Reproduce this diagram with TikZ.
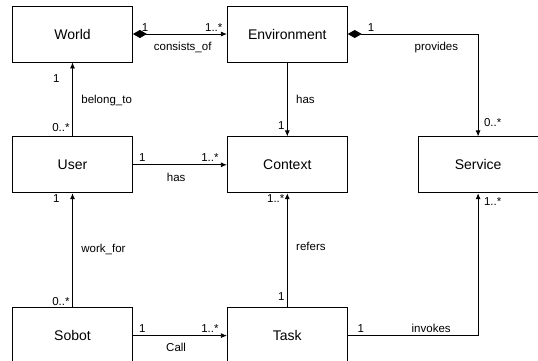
\documentclass[tikz,border=0pt]{standalone}
\usepackage{fontspec}
\setmainfont{Liberation Sans}
\usepackage{tikz}
\usetikzlibrary{arrows.meta, positioning}
\tikzset{
  cls/.style={draw=black, line width=0.8pt, minimum width=120pt, minimum height=56pt,
              inner sep=0pt, font=\fontsize{14}{16}\selectfont},
  assoc/.style={-{Latex[length=6pt,width=5pt]}, line width=0.8pt},
  comp/.style={{Diamond[length=14pt,width=8pt]}-{Latex[length=6pt,width=5pt]}, line width=0.8pt},
  mult/.style={font=\fontsize{11.5}{13}\selectfont, inner sep=2.5pt},
}

\begin{document}
\begin{tikzpicture}[x=1pt, y=1pt, node distance=74pt and 94pt]
  \useasboundingbox (0,0) rectangle (538,-360);
  \fill[white] (0,0) rectangle (538,-360);
  \clip (0,0) rectangle (538,-360);

  % Classes
  \node[cls] (world) at (72.5,-34) {World};
  \node[cls, right=of world] (env) {Environment};
  \node[cls, below=of world] (user) {User};
  \node[cls, right=of user] (context) {Context};
  \node[cls, right=70pt of context] (service) {Service};
  \node[cls, below=114pt of user] (sobot) {Sobot};
  \node[cls, right=of sobot] (task) {Task};

  % Compositions
  \draw[comp] (world) -- (env)
    node[mult, above, pos=0.13] {1}
    node[mult, above, pos=0.86] {1..*}
    node[mult, below, pos=0.53, yshift=-5pt] {consists\_of};
  \draw[comp] (env) -| (service)
    node[mult, above, pos=0.09] {1}
    node[mult, below, pos=0.34, yshift=-5pt] {provides}
    node[mult, right, pos=0.93, xshift=3pt] {0..*};

  % Associations
  \draw[assoc] (env) -- (context)
    node[mult, right, pos=0.5, xshift=6pt] {has}
    node[mult, left, pos=0.85] {1};
  \draw[assoc] (user) -- (world)
    node[mult, left, pos=0.12] {0..*}
    node[mult, left, pos=0.78, xshift=-10pt] {1}
    node[mult, right, pos=0.49, xshift=6pt] {belong\_to};
  \draw[assoc] (user) -- (context)
    node[mult, above, pos=0.1] {1}
    node[mult, above, pos=0.82] {1..*}
    node[mult, below, pos=0.46, yshift=-5pt] {has};
  \draw[assoc] (sobot) -- (user)
    node[mult, left, pos=0.05] {0..*}
    node[mult, left, pos=0.95, xshift=-10pt] {1}
    node[mult, right, pos=0.51, xshift=6pt] {work\_for};
  \draw[assoc] (task) -- (context)
    node[mult, left, pos=0.09] {1}
    node[mult, left, pos=0.95] {1..*}
    node[mult, right, pos=0.53, xshift=6pt] {refers};
  \draw[assoc] (sobot) -- (task)
    node[mult, above, pos=0.1] {1}
    node[mult, above, pos=0.82] {1..*}
    node[mult, below, pos=0.46, yshift=-5pt] {Call};
  \draw[assoc] (task) -| (service)
    node[mult, above, pos=0.05] {1}
    node[mult, above, pos=0.32] {invokes}
    node[mult, right, pos=0.97, xshift=3pt] {1..*};
\end{tikzpicture}
\end{document}
